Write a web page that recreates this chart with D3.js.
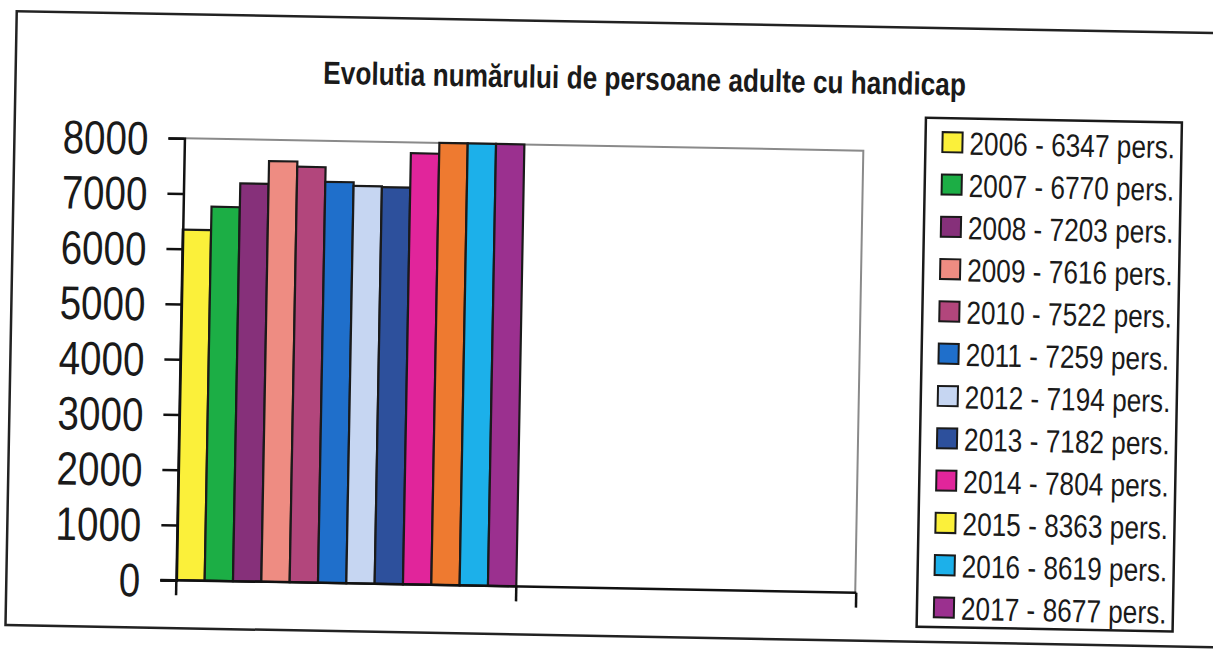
<!DOCTYPE html>
<html lang="ro">
  <head>
    <meta charset="UTF-8" />
    <title>Evolutia numărului de persoane adulte cu handicap</title>
    <script src="https://d3js.org/d3.v7.min.js"></script>
    <style>
      body {
        margin: 0;
        background-color: #fff;
      }
      svg text {
        font-family: "Liberation Sans", Arial, sans-serif;
        fill: #1a1a1a;
      }
      .title {
        font-size: 32px;
        font-weight: bold;
        text-anchor: middle;
      }
      .y-label {
        font-size: 47px;
        text-anchor: end;
      }
      .legend-label {
        font-size: 32px;
      }
    </style>
  </head>
  <body>
    <svg id="chart"></svg>

    <script>
      const title = "Evolutia numărului de persoane adulte cu handicap";

      const years = ["2006", "2007", "2008", "2009", "2010", "2011",
                     "2012", "2013", "2014", "2015", "2016", "2017"];
      const values = [6347, 6770, 7203, 7616, 7522, 7259,
                      7194, 7182, 7804, 8363, 8619, 8677];
      const barColors = ["#fbf03a", "#1cae45", "#86307a", "#ee8c82", "#b2467c", "#1f6fcb",
                         "#c6d6f2", "#2d509c", "#e1259b", "#ee7a30", "#1cb0ea", "#9b308f"];
      // the scanned legend shows 2015 with a yellow swatch
      const legendColors = ["#fbf03a", "#1cae45", "#86307a", "#ee8c82", "#b2467c", "#1f6fcb",
                            "#c6d6f2", "#2d509c", "#e1259b", "#fbf03a", "#1cb0ea", "#9b308f"];
      const yTicks = [0, 1000, 2000, 3000, 4000, 5000, 6000, 7000, 8000];
      const categories = ["a", "b"];

      const width = 1213;
      const height = 650;
      const plot = { left: 181, right: 861, top: 146, bottom: 588 };
      const squeeze = 0.82; // scanned text looks horizontally compressed

      const svg = d3.select("#chart")
        .attr("width", width)
        .attr("height", height);

      // whole page is slightly skewed in the scan
      const g = svg.append("g").attr("transform", "rotate(1.05, 606, 330)");

      // outer frame
      g.append("rect")
        .attr("x", 11).attr("y", 22)
        .attr("width", 1225).attr("height", 614)
        .attr("fill", "none")
        .attr("stroke", "#222")
        .attr("stroke-width", 2.5);

      g.append("text")
        .attr("class", "title")
        .attr("transform", `translate(640,89) scale(${squeeze},1)`)
        .text(title);

      const x = d3.scaleBand()
        .domain(categories)
        .range([plot.left, plot.right])
        .padding(0);

      const xInner = d3.scaleBand()
        .domain(years)
        .range([0, x.bandwidth()])
        .padding(0);

      const y = d3.scaleLinear()
        .domain([0, 8000])
        .range([plot.bottom, plot.top])
        .clamp(true);

      // plot area border (top and right, gray)
      g.append("path")
        .attr("d", `M${plot.left},${y(8000)}H${plot.right - 1}V${y(0)}`)
        .attr("fill", "none")
        .attr("stroke", "#8a8a8a")
        .attr("stroke-width", 2);

      // bars
      g.append("g")
        .selectAll("rect")
        .data(values)
        .join("rect")
        .attr("x", (d, i) => x("a") + xInner(years[i]))
        .attr("y", (d) => y(d))
        .attr("width", xInner.bandwidth())
        .attr("height", (d) => y(0) - y(d))
        .attr("fill", (d, i) => barColors[i])
        .attr("stroke", "#1a1a1a")
        .attr("stroke-width", 2.2);

      // y axis
      const yAxis = g.append("g")
        .attr("transform", `translate(${plot.left},0)`)
        .call(d3.axisLeft(y).tickValues(yTicks).tickSize(16).tickFormat(""));
      yAxis.select(".domain").attr("stroke", "#111").attr("stroke-width", 2.5);
      yAxis.selectAll(".tick line").attr("stroke", "#111").attr("stroke-width", 2.5);

      g.selectAll(".y-label")
        .data(yTicks)
        .join("text")
        .attr("class", "y-label")
        .attr("transform", (d) => `translate(145,${y(d) + 17}) scale(${squeeze},1)`)
        .text((d) => d);

      // x axis with ticks on category boundaries
      const xBounds = categories.map((c) => x(c)).concat([x(categories[1]) + x.bandwidth()]);
      g.append("line")
        .attr("x1", plot.left - 16).attr("x2", plot.right)
        .attr("y1", y(0)).attr("y2", y(0))
        .attr("stroke", "#111").attr("stroke-width", 2.5);
      g.selectAll(".x-tick")
        .data(xBounds)
        .join("line")
        .attr("class", "x-tick")
        .attr("x1", (d) => d).attr("x2", (d) => d)
        .attr("y1", y(0)).attr("y2", y(0) + 15)
        .attr("stroke", "#111").attr("stroke-width", 2.5);

      // legend
      const legend = g.append("g").attr("transform", "translate(922,112)");
      legend.append("rect")
        .attr("width", 256).attr("height", 509)
        .attr("fill", "#fff")
        .attr("stroke", "#1a1a1a")
        .attr("stroke-width", 2.5);

      const row = d3.scalePoint()
        .domain(years)
        .range([36, 36 + 11 * 42.3]);

      const items = legend.selectAll(".legend-item")
        .data(years)
        .join("g")
        .attr("class", "legend-item")
        .attr("transform", (d) => `translate(0,${row(d)})`);

      items.append("rect")
        .attr("x", 17).attr("y", -22)
        .attr("width", 20).attr("height", 20)
        .attr("fill", (d, i) => legendColors[i])
        .attr("stroke", "#1a1a1a")
        .attr("stroke-width", 2);

      items.append("text")
        .attr("class", "legend-label")
        .attr("transform", `translate(44,0) scale(${squeeze},1)`)
        .text((d, i) => `${d} - ${values[i]} pers.`);
    </script>
  </body>
</html>
